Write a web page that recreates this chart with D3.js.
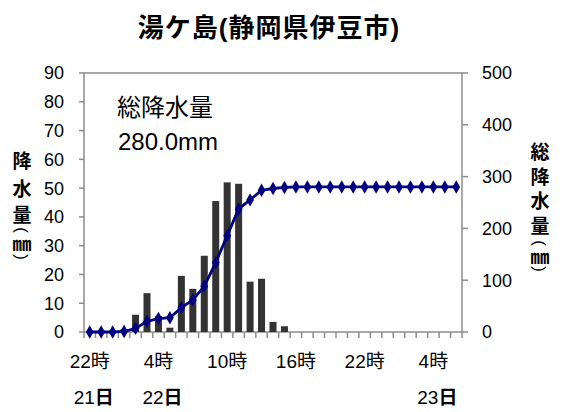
<!DOCTYPE html>
<html><head><meta charset="utf-8">
<script src="https://cdn.jsdelivr.net/npm/d3@7/dist/d3.min.js"></script>
<style>body{margin:0;background:#fff}text{font-family:"Liberation Sans","Noto Sans CJK JP",sans-serif}</style>
</head><body>
<svg id="c" width="562" height="412"></svg>
<script>
const hours = ["22","23","0","1","2","3","4","5","6","7","8","9","10","11","12","13","14","15","16","17","18","19","20","21","22","23","0","1","2","3","4","5","6"];
const hourly = [0,0,0,1,6,13.5,5.5,1.5,19.5,15,26.5,45.5,52,51.5,17.5,18.5,3.5,2,0,0,0,0,0,0,0,0,0,0,0,0,0,0,0];
const cumulative = [0,0,0,1,7,20.5,26,27.5,47,62,88.5,134,186,237.5,255,273.5,277,279,280,280,280,280,280,280,280,280,280,280,280,280,280,280,280];
const xTickLabels = [[0,"22時"],[6,"4時"],[12,"10時"],[18,"16時"],[24,"22時"],[30,"4時"]];
const dayLabels = [[0,"21"],[6,"22"],[30,"23"]];
const leftTicks = [0,10,20,30,40,50,60,70,80,90];
const rightTicks = [0,100,200,300,400,500];

const svg = d3.select("#c");
const L=84,R=462,T=73,B=332;
const idx = d3.range(hours.length);
const x = d3.scaleBand().domain(idx).range([L,R]);
const yL = d3.scaleLinear().domain([0,90]).range([B,T]);
const yR = d3.scaleLinear().domain([0,500]).range([B,T]);
const axisCol="#8c8c8c";

svg.append("text").attr("x",269).attr("y",37).attr("text-anchor","middle")
  .attr("font-size",26).attr("letter-spacing",1).attr("font-weight","bold").text("湯ケ島(静岡県伊豆市)");

svg.append("rect").attr("x",L).attr("y",T).attr("width",R-L).attr("height",B-T)
  .attr("fill","none").attr("stroke",axisCol).attr("stroke-width",1.5);

const gl = svg.append("g");
leftTicks.forEach(v=>{
  gl.append("line").attr("x1",L-5).attr("x2",L).attr("y1",yL(v)).attr("y2",yL(v)).attr("stroke",axisCol).attr("stroke-width",1.5);
  gl.append("text").attr("x",64).attr("y",yL(v)).attr("dy","0.36em").attr("text-anchor","end").attr("font-size",18).text(v);
});
rightTicks.forEach(v=>{
  gl.append("line").attr("x1",R).attr("x2",R+6).attr("y1",yR(v)).attr("y2",yR(v)).attr("stroke",axisCol).attr("stroke-width",1.5);
  gl.append("text").attr("x",482).attr("y",yR(v)).attr("dy","0.36em").attr("text-anchor","start").attr("font-size",18).text(v);
});
d3.range(hours.length+1).forEach(i=>{
  const xx = L + i*x.step();
  gl.append("line").attr("x1",xx).attr("x2",xx).attr("y1",B).attr("y2",B+6).attr("stroke",axisCol).attr("stroke-width",1.5);
});
xTickLabels.forEach(([i,t])=>{
  gl.append("text").attr("x",x(i)+x.bandwidth()/2).attr("y",368).attr("text-anchor","middle").attr("font-size",19).text(t);
});
dayLabels.forEach(([i,t])=>{
  const tx = gl.append("text").attr("x",x(i)+x.bandwidth()/2+4).attr("y",404).attr("text-anchor","middle").attr("font-size",19);
  tx.append("tspan").text(t);
  tx.append("tspan").attr("font-weight","bold").text("日");
});

const bw = 7;
svg.append("g").selectAll("rect").data(idx.filter(i=>hourly[i]>0)).join("rect")
  .attr("x",i=>x(i)+x.bandwidth()/2-bw/2).attr("width",bw)
  .attr("y",i=>yL(hourly[i])).attr("height",i=>B-yL(hourly[i])).attr("fill","#333333");

const line = d3.line().x(i=>x(i)+x.bandwidth()/2).y(i=>yR(cumulative[i]));
svg.append("path").datum(idx).attr("d",line).attr("fill","none").attr("stroke","#000080").attr("stroke-width",2.8);
svg.append("g").selectAll("path").data(idx).join("path")
  .attr("d",d3.symbol(d3.symbolDiamond,52)())
  .attr("transform",i=>`translate(${x(i)+x.bandwidth()/2},${yR(cumulative[i])})`)
  .attr("fill","#000080");

svg.append("text").attr("x",117).attr("y",116).attr("font-size",24).text("総降水量");
svg.append("text").attr("x",118).attr("y",150).attr("font-size",24).text("280.0mm");

function vtext(chars, cx, ys){
  chars.forEach((c,k)=>{
    const t = svg.append("text").attr("text-anchor","middle").attr("font-weight","bold");
    if(c==="(" || c===")"){
      t.attr("transform",`translate(${cx},${ys[k]}) rotate(90)`).attr("dy","0.35em")
       .attr("font-size",17).attr("font-weight","normal").text(c);
    } else if(c==="㎜"){
      t.attr("x",cx).attr("y",ys[k]).attr("dy","0.36em").attr("font-size",19).attr("font-family","Noto Sans CJK JP").text(c);
    } else {
      t.attr("x",cx).attr("y",ys[k]).attr("dy","0.36em").attr("font-size",19).attr("font-family","Noto Sans CJK JP").text(c);
    }
  });
}
vtext(["降","水","量","(","㎜",")"], 22, [161,189,215,230,244,257]);
vtext(["総","降","水","量","(","㎜",")"], 540, [152,177,201,226,243,257,269]);
</script>
</body></html>
